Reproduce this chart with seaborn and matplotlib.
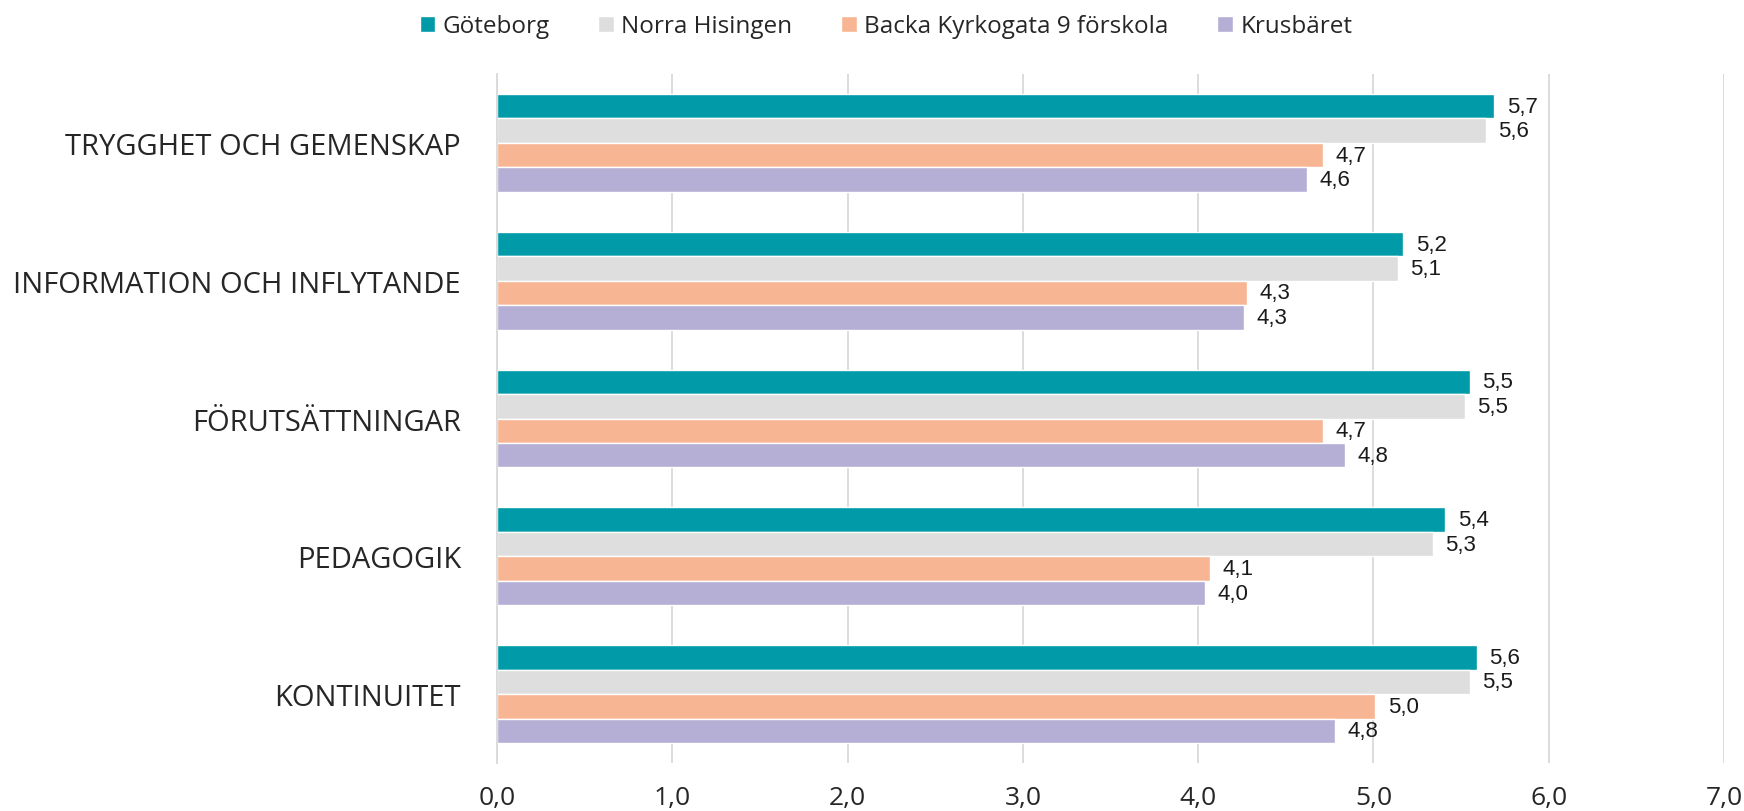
import pandas as pd
import matplotlib.pyplot as plt
import seaborn as sns

# data
categories = ["TRYGGHET OCH GEMENSKAP", "INFORMATION OCH INFLYTANDE",
              "FÖRUTSÄTTNINGAR", "PEDAGOGIK", "KONTINUITET"]
series = ["Göteborg", "Norra Hisingen", "Backa Kyrkogata 9 förskola", "Krusbäret"]
goteborg = [5.69, 5.17, 5.55, 5.41, 5.59]
norra_hisingen = [5.64, 5.14, 5.52, 5.34, 5.55]
backa = [4.71, 4.28, 4.71, 4.07, 5.01]
krusbaret = [4.62, 4.26, 4.84, 4.04, 4.78]
colors = ["#009AA9", "#DEDEDE", "#F8B593", "#B5AFD5"]
x_ticks = [0, 1, 2, 3, 4, 5, 6, 7]

values = [goteborg, norra_hisingen, backa, krusbaret]
rows = []
for s, vals in zip(series, values):
    for c, v in zip(categories, vals):
        rows.append({"category": c, "series": s, "value": v})
df = pd.DataFrame(rows)

sns.set_style("white")
plt.rcParams['font.family'] = ['Open Sans', 'DejaVu Sans']

fig, ax = plt.subplots(figsize=(17.44, 8.12), dpi=100)
fig.subplots_adjust(left=0.285, right=0.9885, top=0.9076, bottom=0.0591)

sns.barplot(data=df, y="category", x="value", hue="series", order=categories,
            hue_order=series, palette=colors, orient="h", width=0.71,
            saturation=1, ax=ax, errorbar=None)

# value labels
for cont, vals in zip(ax.containers, values):
    ax.bar_label(cont, labels=[f"{v:.1f}".replace(".", ",") for v in vals],
                 padding=9, fontsize=16, family="Liberation Sans", color="#1a1a1a")

ax.set_xlim(0, 7)
ax.set_xticks(x_ticks)
ax.set_xticklabels([f"{t:.1f}".replace(".", ",") for t in x_ticks], fontsize=19)
ax.set_ylim(len(categories) - 0.5, -0.5)
ax.set_yticks(range(len(categories)))
ax.set_yticklabels(categories, fontsize=21)
ax.set_yticks([i - 0.5 for i in range(len(categories) + 1)], minor=True)
ax.tick_params(axis="y", which="major", length=0, pad=26)
ax.tick_params(axis="y", which="minor", length=10, color="#D9D9D9", width=1.3)
ax.tick_params(axis="x", length=0, pad=16)
ax.set_xlabel("")
ax.set_ylabel("")

ax.grid(True, axis="x", color="#D9D9D9", linewidth=1.3)
ax.set_axisbelow(True)
for side in ["top", "right", "bottom"]:
    ax.spines[side].set_visible(False)
ax.spines["left"].set_color("#D9D9D9")
ax.spines["left"].set_linewidth(1.3)

handles, labels = ax.get_legend_handles_labels()
ax.get_legend().remove()
fig.legend(handles, labels, loc="upper center", bbox_to_anchor=(0.508, 1.008),
           ncol=4, frameon=False, fontsize=17.5, handlelength=0.65, handleheight=0.65,
           handletextpad=0.3, columnspacing=2.0)

plt.savefig("out.png", dpi=100)
